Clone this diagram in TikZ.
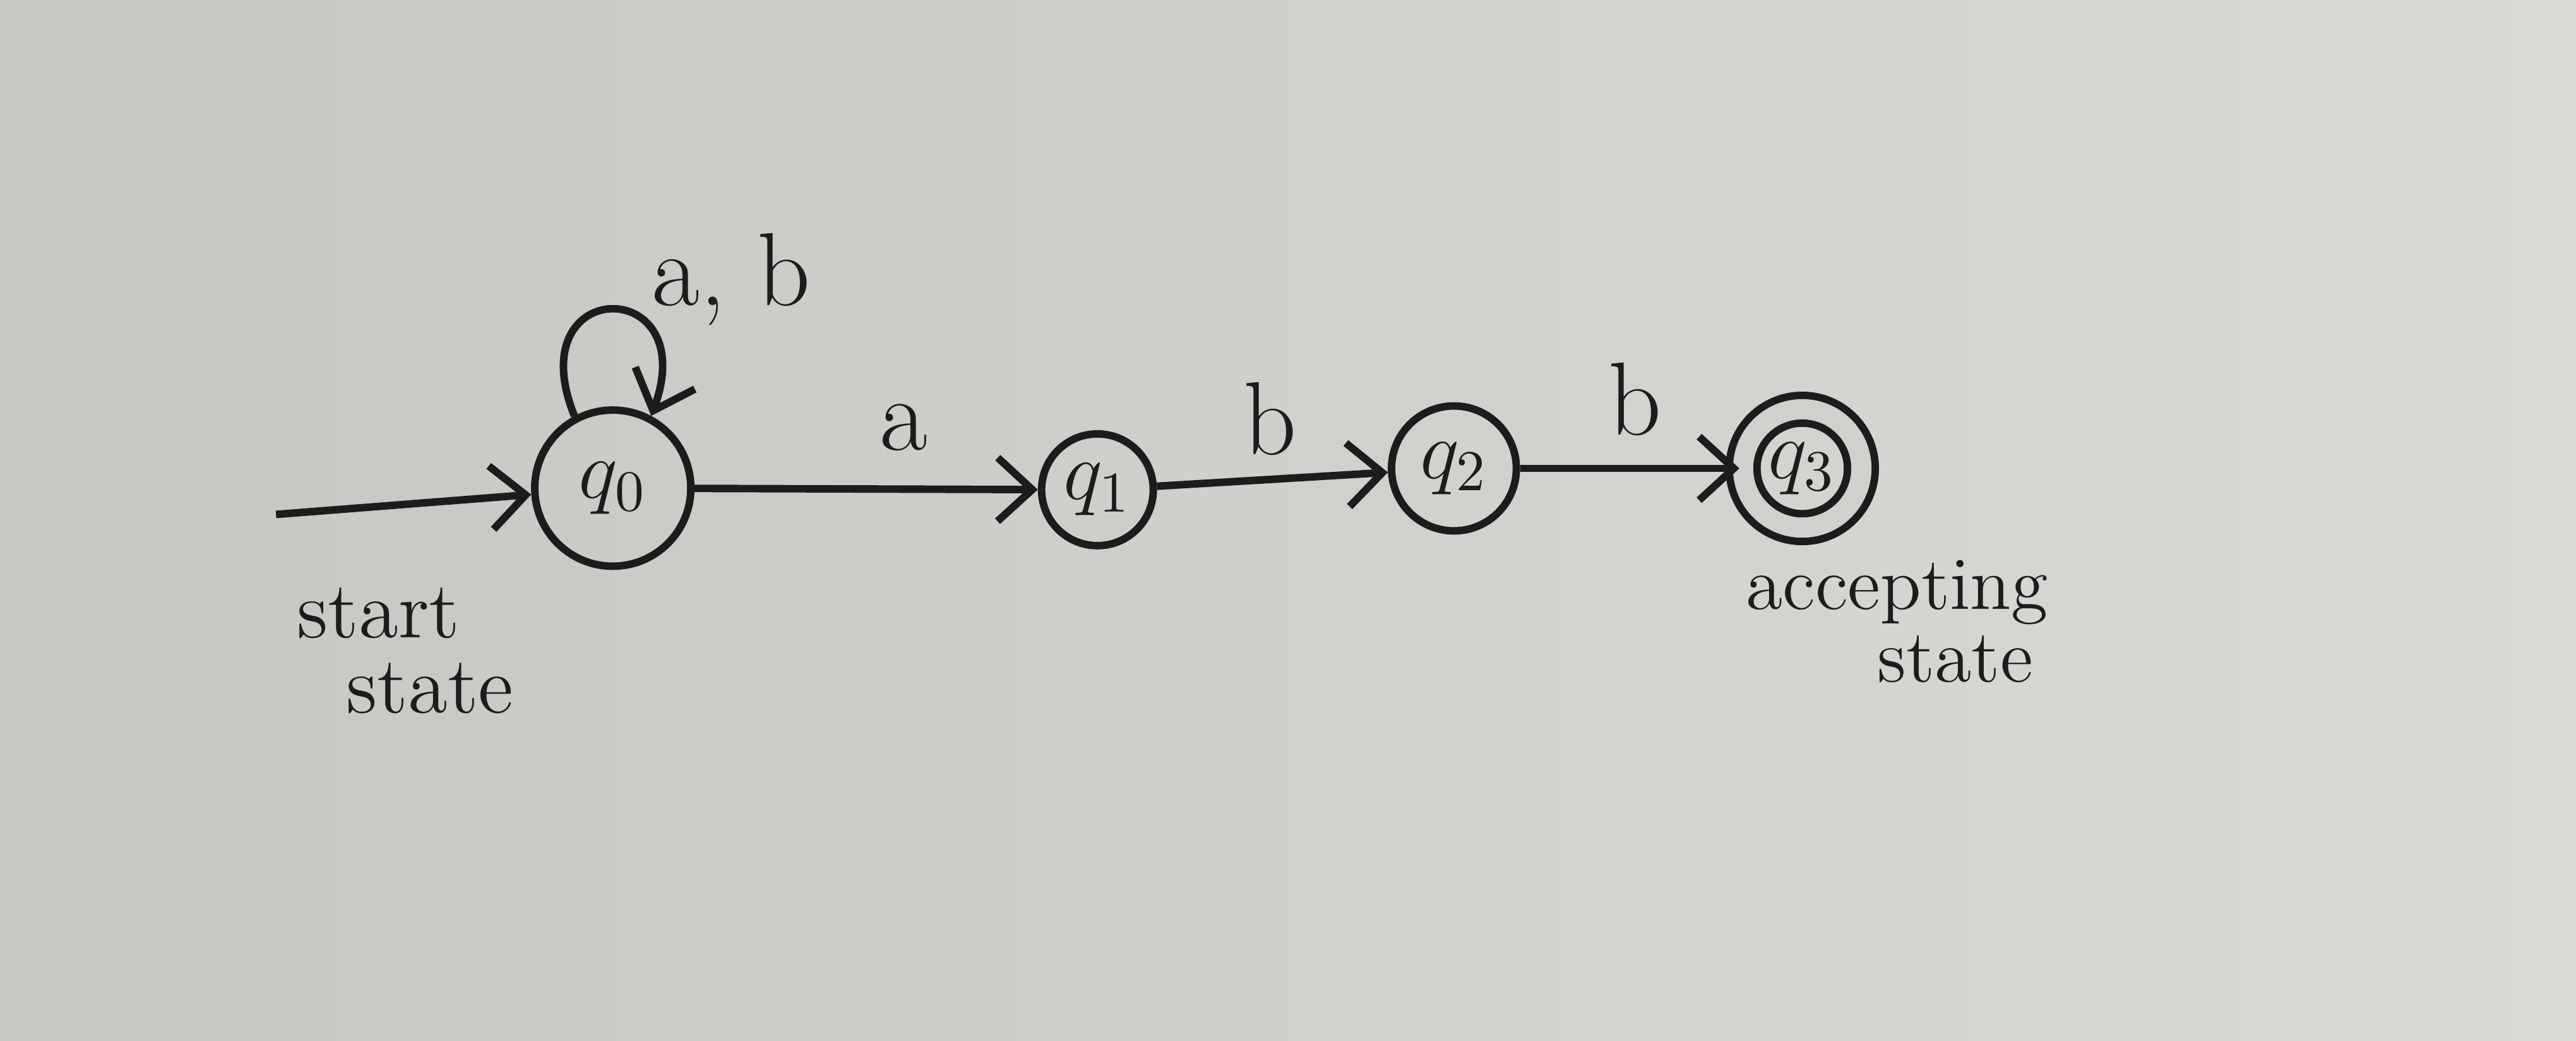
\documentclass[tikz,border=0pt]{standalone}
\usetikzlibrary{arrows.meta}
\definecolor{ink}{HTML}{1C1C1C}
\definecolor{paperL}{HTML}{C6C6C2}
\definecolor{paperR}{HTML}{D9D9D6}
\begin{document}
\begin{tikzpicture}[
  every node/.style={text=ink},
  state/.style={draw=ink, circle, line width=1.3pt, inner sep=0pt, font=\Large},
  edge/.style={draw=ink, line width=1.3pt, -{Straight Barb[length=6pt, width=11pt, line width=1.3pt]}},
  lbl/.style={font=\fontsize{18}{20}\selectfont},
  note/.style={inner sep=0pt}
]
\shade[left color=paperL, right color=paperR] (0,0) rectangle (15.68,6.33);
\useasboundingbox (0,0) rectangle (15.68,6.33);

\node[state, minimum size=0.95cm] (q0) at (3.73,3.36) {$q_0$};
\node[state, minimum size=0.68cm] (q1) at (6.68,3.35) {$q_1$};
\node[state, minimum size=0.76cm] (q2) at (8.85,3.48) {$q_2$};
\node[state, minimum size=0.72cm, double=paperL!45!paperR, double distance=3.5pt] (q3) at (10.97,3.48) {$q_3$};

\coordinate (s) at (1.68,3.20);
\draw[edge] (s) -- (q0);
\draw[edge] (q0.118) .. controls (3.15,4.66) and (4.28,4.66) .. (q0.62);
\draw[edge] (q0) -- (q1);
\draw[edge] (q1) -- (q2);
\draw[edge] (q2) -- (q3);

\node[lbl] (lab0) at (4.45,4.63) {a, b};
\node[lbl] (lab1) at (5.50,3.73) {a};
\node[lbl] (lab2) at (7.73,3.78) {b};
\node[lbl] (lab3) at (9.95,3.90) {b};

\node[note, align=left, anchor=north west, font=\fontsize{14}{13}\selectfont] (st) at (1.80,2.76) {start\\\hspace*{0.30cm}state};
\node[note, align=left, anchor=north west, font=\fontsize{13}{10.5}\selectfont] (ac) at (10.62,2.93) {accepting\\[1pt]\hspace*{0.80cm}state};
\end{tikzpicture}
\end{document}
